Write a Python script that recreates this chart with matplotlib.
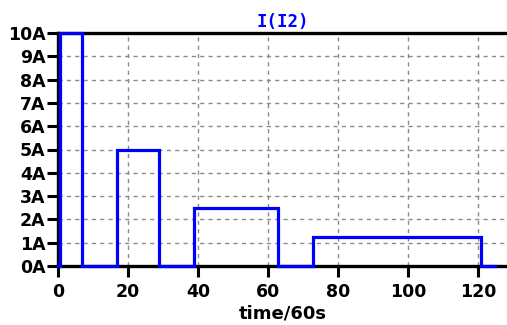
import numpy as np
import matplotlib

matplotlib.use('Agg')
from matplotlib import pyplot as plt

# PWL current source I2, time in units of 60 s, current in A
t_points = [0, 0.7, 0.7, 7, 7, 17, 17, 29, 29, 39, 39, 63, 63, 73, 73, 121, 121, 125]
i_points = [0, 0, 10, 10, 0, 0, 5, 5, 0, 0, 2.5, 2.5, 0, 0, 1.25, 1.25, 0, 0]

x_ticks = [0, 20, 40, 60, 80, 100, 120]
y_ticks = list(range(0, 11))
y_labels = [f'{v}A' for v in y_ticks]

plt.rcParams['font.family'] = ['DejaVu Sans']
plt.rcParams['font.weight'] = 'bold'

fig = plt.figure(figsize=(5.07, 3.25), dpi=100)
ax = fig.add_axes([58 / 507, 59 / 325, 1 - 58 / 507, 233 / 325])

ax.plot(t_points, i_points, color='#0000ff', lw=2.3, solid_joinstyle='miter', clip_on=False, zorder=3)

ax.set_xlim(0, 128.3)
ax.set_ylim(0, 10)
ax.set_xticks(x_ticks)
ax.set_yticks(y_ticks)
ax.set_yticklabels(y_labels)
ax.tick_params(axis='both', direction='out', length=8, width=2.2, labelsize=12.5, color='black')
ax.tick_params(axis='y', pad=1)
ax.tick_params(axis='x', pad=4)

for s in ['top', 'left', 'bottom']:
    ax.spines[s].set_linewidth(2.4)
    ax.spines[s].set_color('black')
ax.spines['right'].set_visible(False)

ax.grid(True, color='#8a8a8a', linestyle=(0, (3, 3)), linewidth=1)
ax.set_axisbelow(True)

ax.set_title('I(I2)', color='#0000ff', fontsize=12.5, fontweight='bold',
             family='DejaVu Sans Mono', pad=4)
ax.set_xlabel('time/60s', fontsize=13, fontweight='bold', labelpad=3)

fig.savefig('out.png', dpi=100)
